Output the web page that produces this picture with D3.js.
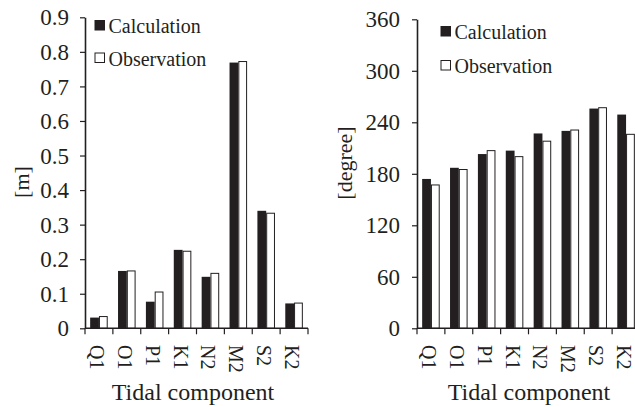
<!DOCTYPE html>
<html><head><meta charset="utf-8">
<script src="https://cdn.jsdelivr.net/npm/d3@7"></script>
<style>
html,body{margin:0;padding:0;background:#fff;}
svg{display:block;}
svg text{font-family:"Liberation Serif",serif;}
</style></head>
<body>
<svg id="c" width="635" height="407" font-family="Liberation Serif"></svg>
<script>
const categories = ["Q1","O1","P1","K1","N2","M2","S2","K2"];
const seriesNames = ["Calculation","Observation"];
const amplitudeCalc = [0.031,0.166,0.077,0.227,0.149,0.769,0.340,0.072];
const amplitudeObs  = [0.034,0.166,0.105,0.223,0.159,0.772,0.333,0.073];
const phaseCalc = [174,187,203,207,227,230,256,249];
const phaseObs  = [167,185,207,200,218,231,257,226];
const amplitudeTicks = [0,0.1,0.2,0.3,0.4,0.5,0.6,0.7,0.8,0.9];
const phaseTicks = [0,60,120,180,240,300,360];
const xTitle = "Tidal component";

const FONT = "Liberation Serif";
const svg = d3.select("#c");
const dark = "#231f20";

function panel(cfg){
  const g = svg.append("g");
  const x = d3.scaleBand().domain(categories).range(cfg.xr).paddingInner(0.37).paddingOuter(0.185);
  const xs = d3.scaleBand().domain(seriesNames).range([0, x.bandwidth()]);
  const y = d3.scaleLinear().domain(cfg.yd).range(cfg.yr);
  const data = categories.map((c,i)=>({c, v:[cfg.calc[i], cfg.obs[i]]}));

  const grp = g.selectAll(".grp").data(data).join("g").attr("transform", d=>`translate(${x(d.c)},0)`);
  grp.selectAll("rect").data(d=>seriesNames.map((s,j)=>({s, v:d.v[j]}))).join("rect")
    .attr("x", d=>xs(d.s)+ (d.s==="Observation"?0.5:0))
    .attr("width", d=>xs.bandwidth() - (d.s==="Observation"?1:0))
    .attr("y", d=>y(d.v))
    .attr("height", d=>y(0)-y(d.v))
    .attr("fill", d=>d.s==="Calculation"?dark:"#fff")
    .attr("stroke", d=>d.s==="Calculation"?"none":dark)
    .attr("stroke-width", 1);

  const ya = g.append("g").attr("transform", `translate(${cfg.xr[0]},0)`)
    .call(d3.axisLeft(y).tickValues(cfg.ticks).tickSize(5).tickSizeOuter(0).tickPadding(cfg.tp).tickFormat(cfg.fmt));
  ya.attr("font-family", FONT);
  ya.select(".domain").attr("stroke", dark).attr("stroke-width", 1.6);
  ya.selectAll(".tick line").attr("stroke", dark).attr("stroke-width", 1.2);
  ya.selectAll(".tick text").attr("font-family", FONT).attr("font-size", 23).attr("fill", dark).attr("dy","0.33em");

  const y0 = y(0);
  g.append("line").attr("x1", cfg.xr[0]).attr("x2", cfg.xr[1]).attr("y1", y0).attr("y2", y0)
    .attr("stroke", dark).attr("stroke-width", 1.6);
  const bounds = d3.range(categories.length+1).map(i=>cfg.xr[0] + i*x.step());
  g.selectAll(".xt").data(bounds).join("line")
    .attr("x1", d=>d).attr("x2", d=>d).attr("y1", y0).attr("y2", y0+6)
    .attr("stroke", dark).attr("stroke-width", 1.2);
  g.selectAll(".xl").data(categories).join("text")
    .attr("transform", d=>`translate(${cfg.xr[0] + (categories.indexOf(d)+0.5)*x.step()},345) rotate(90)`)
    .attr("y", 9)
    .attr("font-family", FONT).attr("font-size", 20).attr("fill", dark)
    .text(d=>d);
  g.append("text").attr("x", cfg.xtx).attr("y", 400).attr("text-anchor","middle")
    .attr("font-family", FONT).attr("font-size", 24).attr("fill", dark).text(xTitle);
  g.append("text").attr("transform", `translate(${cfg.ytx},${cfg.yty}) rotate(-90)`)
    .attr("text-anchor","middle").attr("font-family", FONT).attr("font-size", 22).attr("fill", dark).text(cfg.ytitle);

  const lg = g.append("g");
  seriesNames.forEach((s,j)=>{
    const by = cfg.leg[1] + j*cfg.leg[2];
    lg.append("rect").attr("x", cfg.leg[0]+0.5).attr("y", by-12.5).attr("width", 9.5).attr("height", 9.5)
      .attr("fill", j===0?dark:"#fff").attr("stroke", dark).attr("stroke-width", 1);
    lg.append("text").attr("x", cfg.leg[0]+14).attr("y", by).attr("font-family", FONT).attr("font-size", 20).attr("fill", dark).text(s);
  });
}

panel({xr:[85,308], yd:[0,0.9], yr:[328.3,17.3], calc:amplitudeCalc, obs:amplitudeObs,
  ticks:amplitudeTicks, fmt:d=>d===0?"0":d3.format(".1f")(d), tp:11,
  xtx:193, ytx:28.5, yty:182, ytitle:"[m]", leg:[94.5,33,32.5]});
panel({xr:[417,640], yd:[0,360], yr:[328.3,19.3], calc:phaseCalc, obs:phaseObs,
  ticks:phaseTicks, fmt:d3.format("d"), tp:12,
  xtx:529, ytx:352, yty:163, ytitle:"[degree]", leg:[440.5,39,34]});
</script>
</body></html>
